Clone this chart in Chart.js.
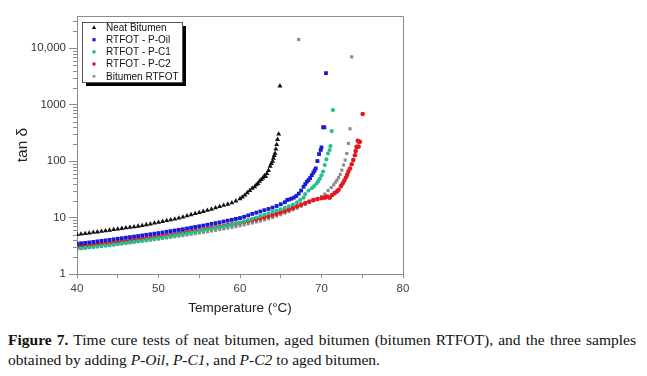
<!DOCTYPE html>
<html>
<head>
<meta charset="utf-8">
<script src="https://cdn.jsdelivr.net/npm/chart.js@4/dist/chart.umd.min.js"></script>
<style>
  html, body { margin: 0; padding: 0; background: #fff; }
  #wrap { position: relative; width: 647px; height: 376px; overflow: hidden; }
  #grafico { position: absolute; left: 0; top: 0; }
  #caption { position: absolute; left: 8px; top: 330px; font-family: "Liberation Serif", "Times New Roman", serif; font-size: 15.5px; line-height: 20px; color: #111; white-space: nowrap; }
  #caption .l1 { width: 628px; text-align: justify; text-align-last: justify; }
</style>
</head>
<body>
<div id="wrap">
  <canvas id="grafico" width="647" height="322"></canvas>
  <div id="caption">
    <div class="l1"><b>Figure 7.</b> Time cure tests of neat bitumen, aged bitumen (bitumen RTFOT), and the three samples</div>
    <div class="l2">obtained by adding <i>P-Oil</i>, <i>P-C1</i>, and <i>P-C2</i> to aged bitumen.</div>
  </div>
</div>
<script>
// Neat Bitumen
const neatT = [40, 40.5, 41, 41.5, 42, 42.5, 43, 43.5, 44, 44.5, 45, 45.5, 46, 46.5, 47, 47.5, 48, 48.5, 49, 49.5,
  50, 50.5, 51, 51.5, 52, 52.5, 53, 53.5, 54, 54.5, 55, 55.5, 56, 56.5, 57, 57.5, 58, 58.5, 59, 59.5,
  60, 60.3, 60.6, 60.9, 61.2, 61.5, 61.8, 62, 62.2, 62.4, 62.6, 62.8, 63, 63.15, 63.3, 63.5, 63.7, 63.85,
  64, 64.1, 64.2, 64.3, 64.4, 64.5, 64.6, 64.75, 64.9];
const neatTan = [5.0, 5.1, 5.2, 5.3, 5.45, 5.55, 5.7, 5.8, 5.95, 6.1, 6.25, 6.4, 6.55, 6.7, 6.85, 7.0, 7.2, 7.45, 7.7, 7.95,
  8.2, 8.5, 8.8, 9.1, 9.4, 9.75, 10.2, 10.7, 11.2, 11.7, 12.2, 12.8, 13.4, 14.0, 14.8, 15.6, 16.4, 17.2, 18.2, 19.6,
  21.5, 23, 25, 27.5, 30, 33, 35, 38, 40, 44, 47, 50, 55, 53, 60, 68, 81, 90,
  99, 112, 125, 137, 163, 195, 241, 300, 2130];

// RTFOT - P-Oil
const oilT = [40, 40.5, 41, 41.5, 42, 42.5, 43, 43.5, 44, 44.5, 45, 45.5, 46, 46.5, 47, 47.5, 48, 48.5, 49, 49.5,
  50, 50.5, 51, 51.5, 52, 52.5, 53, 53.5, 54, 54.5, 55, 55.5, 56, 56.5, 57, 57.5, 58, 58.5, 59, 59.5,
  60, 60.5, 61, 61.5, 62, 62.5, 63, 63.5, 64, 64.5, 65, 65.5, 65.8, 66, 66.3, 66.6, 66.9, 67.2, 67.5, 67.8,
  68, 68.2, 68.4, 68.6, 68.8, 69, 69.15, 69.3, 69.5, 69.7, 69.9, 70, 70.2, 70.35, 70.55];
const oilTan = [3.45, 3.5, 3.55, 3.62, 3.7, 3.78, 3.86, 3.94, 4.02, 4.1, 4.2, 4.3, 4.4, 4.5, 4.6, 4.7, 4.82, 4.94, 5.06, 5.18,
  5.3, 5.45, 5.6, 5.75, 5.9, 6.05, 6.2, 6.4, 6.6, 6.8, 7.0, 7.2, 7.45, 7.7, 7.95, 8.2, 8.5, 8.8, 9.1, 9.45,
  9.8, 10.3, 10.9, 11.6, 12.2, 12.8, 13.5, 14.2, 15.0, 16.0, 17.2, 18.6, 20.5, 20.8, 21.5, 22.5, 24, 26.5, 30, 35,
  39, 43, 46, 50, 56, 62, 68, 74, 100, 133, 157, 174, 396, 396, 3600];

// RTFOT - P-C1
const c1T = [40, 40.5, 41, 41.5, 42, 42.5, 43, 43.5, 44, 44.5, 45, 45.5, 46, 46.5, 47, 47.5, 48, 48.5, 49, 49.5,
  50, 50.5, 51, 51.5, 52, 52.5, 53, 53.5, 54, 54.5, 55, 55.5, 56, 56.5, 57, 57.5, 58, 58.5, 59, 59.5,
  60, 60.5, 61, 61.5, 62, 62.5, 63, 63.5, 64, 64.5, 65, 65.5, 66, 66.5, 67, 67.4, 67.8, 68, 68.4, 68.8,
  69.1, 69.4, 69.6, 69.8, 70, 70.2, 70.4, 70.6, 70.8, 71, 71.1, 71.25, 71.4];
const c1Tan = [2.8, 2.85, 2.9, 2.95, 3.0, 3.06, 3.12, 3.18, 3.25, 3.32, 3.4, 3.48, 3.56, 3.64, 3.72, 3.81, 3.9, 4.0, 4.1, 4.2,
  4.3, 4.42, 4.55, 4.68, 4.82, 4.96, 5.1, 5.25, 5.4, 5.56, 5.72, 5.9, 6.08, 6.28, 6.5, 6.72, 6.95, 7.2, 7.5, 7.8,
  8.15, 8.55, 9.0, 9.5, 10.0, 10.6, 11.2, 11.9, 12.6, 13.3, 14.0, 14.8, 15.8, 17.0, 18.6, 20.5, 22.5, 26, 30, 33,
  36, 40, 44, 49, 56, 65, 85, 107, 136, 157, 184, 340, 800];

// RTFOT - P-C2
const c2T = [40, 40.5, 41, 41.5, 42, 42.5, 43, 43.5, 44, 44.5, 45, 45.5, 46, 46.5, 47, 47.5, 48, 48.5, 49, 49.5,
  50, 50.5, 51, 51.5, 52, 52.5, 53, 53.5, 54, 54.5, 55, 55.5, 56, 56.5, 57, 57.5, 58, 58.5, 59, 59.5,
  60, 60.5, 61, 61.5, 62, 62.5, 63, 63.5, 64, 64.5, 65, 65.5, 66, 66.5, 67, 67.5, 68, 68.5, 69, 69.5,
  70, 70.4, 70.7, 71, 71.3, 71.6, 71.9, 72.1, 72.4, 72.6, 72.8, 73, 73.15, 73.3, 73.5, 73.7, 73.9,
  74.1, 74.2, 74.3, 74.45, 74.55, 74.6, 74.7, 75.05];
const c2Tan = [3.05, 3.1, 3.15, 3.2, 3.26, 3.32, 3.38, 3.44, 3.5, 3.57, 3.64, 3.72, 3.8, 3.88, 3.96, 4.05, 4.14, 4.24, 4.34, 4.45,
  4.56, 4.68, 4.8, 4.93, 5.06, 5.2, 5.34, 5.49, 5.64, 5.8, 5.96, 6.13, 6.3, 6.5, 6.7, 6.9, 7.1, 7.35, 7.6, 7.85,
  8.1, 8.4, 8.7, 9.0, 9.35, 9.7, 10.1, 10.6, 11.1, 11.7, 12.4, 13.1, 13.9, 14.8, 15.8, 16.9, 18.0, 19.2, 20.3, 21.2,
  22.0, 22.5, 23.5, 22.5, 25, 27, 29, 31, 36, 40, 45, 51, 57, 65, 74, 88, 104,
  127, 150, 178, 228, 180, 220, 219, 680];

// Bitumen RTFOT
const rtfotT = [40, 40.5, 41, 41.5, 42, 42.5, 43, 43.5, 44, 44.5, 45, 45.5, 46, 46.5, 47, 47.5, 48, 48.5, 49, 49.5,
  50, 50.5, 51, 51.5, 52, 52.5, 53, 53.5, 54, 54.5, 55, 55.5, 56, 56.5, 57, 57.5, 58, 58.5, 59, 59.5,
  60, 60.5, 61, 61.5, 62, 62.5, 63, 63.5, 64, 64.5, 65, 65.5, 66, 66.5, 67, 67.2, 67.5, 68, 68.5, 69,
  69.5, 70, 70.4, 70.8, 71.2, 71.5, 71.7, 71.9, 72.1, 72.3, 72.5, 72.7, 72.9, 73.1, 73.3, 73.5, 73.7];
const rtfotTan = [2.8, 2.85, 2.9, 2.95, 3.0, 3.05, 3.1, 3.16, 3.22, 3.28, 3.35, 3.42, 3.49, 3.56, 3.64, 3.72, 3.8, 3.88, 3.97, 4.06,
  4.15, 4.25, 4.35, 4.46, 4.57, 4.68, 4.8, 4.92, 5.05, 5.18, 5.32, 5.46, 5.61, 5.77, 5.94, 6.12, 6.3, 6.5, 6.7, 6.9,
  7.15, 7.4, 7.7, 8.0, 8.35, 8.7, 9.1, 9.55, 10.0, 10.6, 11.2, 11.9, 12.7, 13.6, 14.6, 14200, 15.8, 17, 18.5, 20,
  21.5, 23.5, 26, 30, 34, 38, 42, 46, 51, 58, 69, 85, 104, 136, 205, 373, 7000];

const yTicks = [1, 10, 100, 1000, 10000];
const yTickLabels = ["1", "10", "100", "1000", "10,000"];

const FONTE = "'Liberation Sans', Arial, sans-serif";

function pontos(ts, vs) {
  return ts.map((t, i) => ({ x: t, y: vs[i] }));
}

const series = [
  { label: "Neat Bitumen", t: neatT, v: neatTan, cor: "#111111", estilo: "triangle", r: 2.9 },
  { label: "RTFOT - P-Oil", t: oilT, v: oilTan, cor: "#1a1ad6", estilo: "rect", r: 2.7 },
  { label: "RTFOT - P-C1", t: c1T, v: c1Tan, cor: "#22c08a", estilo: "circle", r: 2.1 },
  { label: "RTFOT - P-C2", t: c2T, v: c2Tan, cor: "#e5161e", estilo: "circle", r: 2.3 },
  { label: "Bitumen RTFOT", t: rtfotT, v: rtfotTan, cor: "#8a8a8a", estilo: "rect", r: 2.2 }
];

const datasets = series.map(s => ({
  label: s.label,
  data: pontos(s.t, s.v),
  pointStyle: s.estilo,
  pointRadius: s.r,
  pointBackgroundColor: s.cor,
  pointBorderColor: s.cor,
  pointBorderWidth: 0,
  showLine: false
}));

// Moldura (topo e direita) + ticks menores do eixo log
const molduraPlugin = {
  id: "moldura",
  afterDraw(chart) {
    const { ctx, chartArea: a, scales } = chart;
    ctx.save();
    ctx.strokeStyle = "#8c8c8c";
    ctx.lineWidth = 1;
    ctx.beginPath();
    ctx.moveTo(a.left, a.top + 0.5);
    ctx.lineTo(a.right + 0.5, a.top + 0.5);
    ctx.lineTo(a.right + 0.5, a.bottom);
    ctx.stroke();

    const y = scales.y;
    ctx.beginPath();
    yTicks.forEach(d => {
      for (let k = 2; k <= 9; k++) {
        const v = k * d;
        if (v > y.max) continue;
        const py = Math.round(y.getPixelForValue(v)) + 0.5;
        ctx.moveTo(a.left - 4, py);
        ctx.lineTo(a.left, py);
      }
    });
    ctx.stroke();
    ctx.restore();
  }
};

// Legenda em caixa com sombra, como no original
const legendaPlugin = {
  id: "legendaCaixa",
  afterDraw(chart) {
    const { ctx } = chart;
    const bx = 82, by = 22, bw = 100, bh = 60;
    ctx.save();
    ctx.fillStyle = "#000";
    ctx.fillRect(bx + 4, by + 4, bw, bh);
    ctx.fillStyle = "#fff";
    ctx.fillRect(bx, by, bw, bh);
    ctx.strokeStyle = "#555";
    ctx.lineWidth = 1;
    ctx.strokeRect(bx + 0.5, by + 0.5, bw, bh);

    ctx.font = "10px " + FONTE;
    ctx.textBaseline = "middle";
    ctx.textAlign = "left";
    series.forEach((s, i) => {
      const cy = by + 5.5 + i * 12.2;
      const cx = 94;
      ctx.fillStyle = s.cor;
      ctx.beginPath();
      if (s.estilo === "triangle") {
        ctx.moveTo(cx, cy - 2.2);
        ctx.lineTo(cx + 2.2, cy + 1.6);
        ctx.lineTo(cx - 2.2, cy + 1.6);
        ctx.closePath();
        ctx.fill();
      } else if (s.estilo === "rect") {
        const h = i === 4 ? 1.3 : 1.6;
        ctx.fillRect(cx - h, cy - h, h * 2, h * 2);
      } else {
        ctx.arc(cx, cy, 1.8, 0, Math.PI * 2);
        ctx.fill();
      }
      ctx.fillStyle = "#111";
      ctx.fillText(s.label, 106, cy + 0.5);
    });
    ctx.restore();
  }
};

const H = 322;

new Chart(document.getElementById("grafico").getContext("2d"), {
  type: "scatter",
  data: { datasets },
  options: {
    responsive: false,
    animation: false,
    layout: { padding: { top: 16, right: 244, left: 0, bottom: 0 } },
    plugins: {
      legend: { display: false },
      tooltip: { enabled: false }
    },
    scales: {
      x: {
        type: "linear",
        min: 40,
        max: 80,
        afterFit: s => { s.height = H - 274; },
        ticks: {
          stepSize: 5,
          autoSkip: false,
          maxRotation: 0,
          padding: 4,
          color: "#444",
          font: { family: FONTE, size: 11.5 },
          callback: v => (v % 10 === 0 ? String(v) : "")
        },
        grid: { drawOnChartArea: false, drawTicks: true, tickLength: 4, color: "#8c8c8c" },
        border: { display: true, color: "#8c8c8c" },
        title: {
          display: true,
          text: "Temperature (°C)",
          color: "#222",
          font: { family: FONTE, size: 13.5 },
          padding: { top: 0, bottom: 6 }
        }
      },
      y: {
        type: "logarithmic",
        min: 1,
        max: 37000,
        afterFit: s => { s.width = 77; },
        afterBuildTicks: s => { s.ticks = yTicks.map(v => ({ value: v })); },
        ticks: {
          padding: 3,
          color: "#333",
          font: { family: FONTE, size: 11.5 },
          callback: v => {
            const i = yTicks.indexOf(v);
            return i >= 0 ? yTickLabels[i] : "";
          }
        },
        grid: { drawOnChartArea: false, drawTicks: true, tickLength: 8, color: "#8c8c8c" },
        border: { display: true, color: "#8c8c8c" },
        title: {
          display: true,
          text: "tan δ",
          color: "#222",
          font: { family: FONTE, size: 15.5 },
          padding: { top: 13, bottom: 0 }
        }
      }
    }
  },
  plugins: [molduraPlugin, legendaPlugin]
});
</script>
</body>
</html>
